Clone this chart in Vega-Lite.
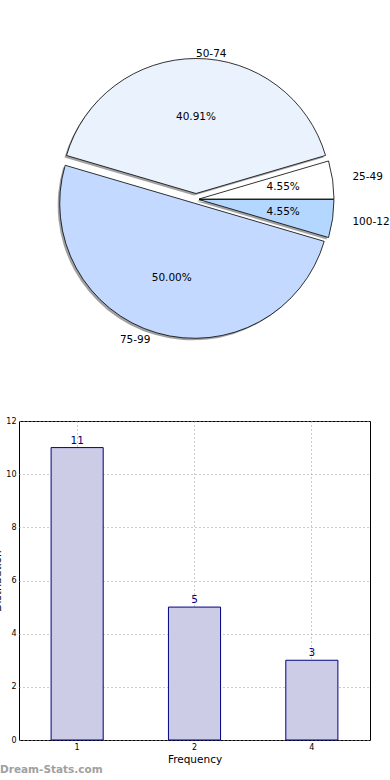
{
  "$schema": "https://vega.github.io/schema/vega-lite/v6.json",
  "padding": {"left": -8, "top": 0, "right": 0, "bottom": 0},
  "bounds": "flush",
  "spacing": 23,
  "config": {
    "font": "DejaVu Sans",
    "view": {"stroke": "black", "strokeWidth": 1}
  },
  "title": {
    "text": "Dream-Stats.com",
    "orient": "bottom",
    "anchor": "start",
    "frame": "group",
    "dx": -19,
    "offset": 0,
    "fontSize": 10.5,
    "fontWeight": "bold",
    "color": "#a0a0a0",
    "font": "DejaVu Sans"
  },
  "vconcat": [
    {
      "width": 354,
      "height": 398,
      "view": {"stroke": null},
      "data": {
        "values": [
          {"range": "25-49", "count": 1},
          {"range": "50-74", "count": 9},
          {"range": "75-99", "count": 11},
          {"range": "100-124", "count": 1}
        ]
      },
      "transform": [
        {"stack": "count", "groupby": [], "as": ["t0", "t1"]},
        {"calculate": "(datum.t0 + datum.t1) / 2", "as": "tm"}
      ],
      "encoding": {
        "theta": {"field": "t0", "type": "quantitative", "stack": null, "scale": {"domain": [0, 22], "range": [1.5708, -4.7124]}},
        "theta2": {"field": "t1"}
      },
      "layer": [
        {"transform": [{"filter": "datum.range === '25-49'"}], "mark": {"type": "arc", "radius": 135, "xOffset": 1, "yOffset": 2, "fill": "#444", "opacity": 0.5}},
        {"transform": [{"filter": "datum.range === '50-74'"}], "mark": {"type": "arc", "radius": 135, "xOffset": -2, "yOffset": -3.5, "fill": "#444", "opacity": 0.5}},
        {"transform": [{"filter": "datum.range === '75-99'"}], "mark": {"type": "arc", "radius": 135, "xOffset": -3.3, "yOffset": 6.3, "fill": "#444", "opacity": 0.5}},
        {"transform": [{"filter": "datum.range === '100-124'"}], "mark": {"type": "arc", "radius": 135, "xOffset": 1, "yOffset": 2.5, "fill": "#444", "opacity": 0.5}},
        {"transform": [{"filter": "datum.range === '25-49'"}], "mark": {"type": "arc", "radius": 135, "xOffset": 3, "yOffset": 0, "stroke": "black", "strokeWidth": 0.8, "fill": "#ffffff"}},
        {"transform": [{"filter": "datum.range === '50-74'"}], "mark": {"type": "arc", "radius": 135, "xOffset": 0, "yOffset": -5.5, "stroke": "black", "strokeWidth": 0.8, "fill": "#eaf2fe"}},
        {"transform": [{"filter": "datum.range === '75-99'"}], "mark": {"type": "arc", "radius": 135, "xOffset": -1.3, "yOffset": 4.3, "stroke": "black", "strokeWidth": 0.8, "fill": "#c4d9ff"}},
        {"transform": [{"filter": "datum.range === '100-124'"}], "mark": {"type": "arc", "radius": 135, "xOffset": 3, "yOffset": 0.5, "stroke": "black", "strokeWidth": 0.8, "fill": "#b4d7ff"}},
        {"transform": [{"filter": "datum.range === '25-49'"}], "mark": {"type": "text", "radius": 85, "xOffset": 3, "yOffset": 0, "fontSize": 10.5, "align": "center", "baseline": "middle", "color": "black"}, "encoding": {"theta": {"field": "tm", "type": "quantitative", "stack": null}, "theta2": null, "text": {"value": "4.55%"}}},
        {"transform": [{"filter": "datum.range === '50-74'"}], "mark": {"type": "text", "radius": 77, "xOffset": 0, "yOffset": -5.5, "fontSize": 10.5, "align": "center", "baseline": "middle", "color": "black"}, "encoding": {"theta": {"field": "tm", "type": "quantitative", "stack": null}, "theta2": null, "text": {"value": "40.91%"}}},
        {"transform": [{"filter": "datum.range === '75-99'"}], "mark": {"type": "text", "radius": 78, "xOffset": -2.3, "yOffset": 4.3, "fontSize": 10.5, "align": "center", "baseline": "middle", "color": "black"}, "encoding": {"theta": {"field": "tm", "type": "quantitative", "stack": null}, "theta2": null, "text": {"value": "50.00%"}}},
        {"transform": [{"filter": "datum.range === '100-124'"}], "mark": {"type": "text", "radius": 85, "xOffset": 3, "yOffset": 0.5, "fontSize": 10.5, "align": "center", "baseline": "middle", "color": "black"}, "encoding": {"theta": {"field": "tm", "type": "quantitative", "stack": null}, "theta2": null, "text": {"value": "4.55%"}}},
        {"transform": [{"filter": "datum.range === '25-49'"}], "mark": {"type": "text", "radius": 155, "xOffset": 3, "yOffset": 0, "fontSize": 10.5, "align": "left", "baseline": "middle", "color": "black"}, "encoding": {"theta": {"field": "tm", "type": "quantitative", "stack": null}, "theta2": null, "text": {"field": "range"}}},
        {"transform": [{"filter": "datum.range === '50-74'"}], "mark": {"type": "text", "radius": 140, "xOffset": 0, "yOffset": -5.5, "fontSize": 10.5, "align": "left", "baseline": "middle", "color": "black"}, "encoding": {"theta": {"field": "tm", "type": "quantitative", "stack": null}, "theta2": null, "text": {"field": "range"}}},
        {"transform": [{"filter": "datum.range === '75-99'"}], "mark": {"type": "text", "radius": 143, "xOffset": -5.3, "yOffset": 3.5, "fontSize": 10.5, "align": "right", "baseline": "middle", "color": "black"}, "encoding": {"theta": {"field": "tm", "type": "quantitative", "stack": null}, "theta2": null, "text": {"field": "range"}}},
        {"transform": [{"filter": "datum.range === '100-124'"}], "mark": {"type": "text", "radius": 155, "xOffset": 3, "yOffset": 0.5, "fontSize": 10.5, "align": "left", "baseline": "middle", "color": "black", "limit": 39, "ellipsis": "\u200b"}, "encoding": {"theta": {"field": "tm", "type": "quantitative", "stack": null}, "theta2": null, "text": {"field": "range"}}}
      ]
    },
    {
      "width": 351,
      "height": 319,
      "data": {
        "values": [
          {"frequency": "1", "count": 11},
          {"frequency": "2", "count": 5},
          {"frequency": "4", "count": 3}
        ]
      },
      "encoding": {
        "x": {
          "field": "frequency",
          "type": "ordinal",
          "scale": {"paddingInner": 0.556, "paddingOuter": 0.2735},
          "axis": {
            "title": "Frequency",
            "titleFontSize": 10.5,
            "titleFontWeight": "normal",
            "titleColor": "black",
            "titlePadding": 3,
            "labelAngle": 0,
            "labelFontSize": 8,
            "labelColor": "black",
            "labelPadding": 3,
            "bandPosition": 0.5,
            "ticks": false,
            "domain": false,
            "grid": true,
            "gridDash": [1, 3],
            "gridColor": "#999999",
            "gridWidth": 1
          }
        },
        "y": {
          "field": "count",
          "type": "quantitative",
          "scale": {"domain": [0, 12], "nice": false},
          "axis": {
            "title": "Distribution",
            "titleFontSize": 10.5,
            "titleFontWeight": "normal",
            "titleColor": "black",
            "titlePadding": 3,
            "values": [0, 2, 4, 6, 8, 10, 12],
            "labelFontSize": 8,
            "labelColor": "black",
            "labelPadding": 3,
            "ticks": false,
            "domain": false,
            "grid": true,
            "gridDash": [1, 3],
            "gridColor": "#999999",
            "gridWidth": 1
          }
        }
      },
      "layer": [
        {"mark": {"type": "bar", "fill": "#ccccE6", "stroke": "#000080", "strokeWidth": 1}},
        {"mark": {"type": "text", "baseline": "bottom", "dy": -2, "fontSize": 10.5, "color": "#000080"}, "encoding": {"text": {"field": "count", "type": "quantitative"}}}
      ]
    }
  ]
}
